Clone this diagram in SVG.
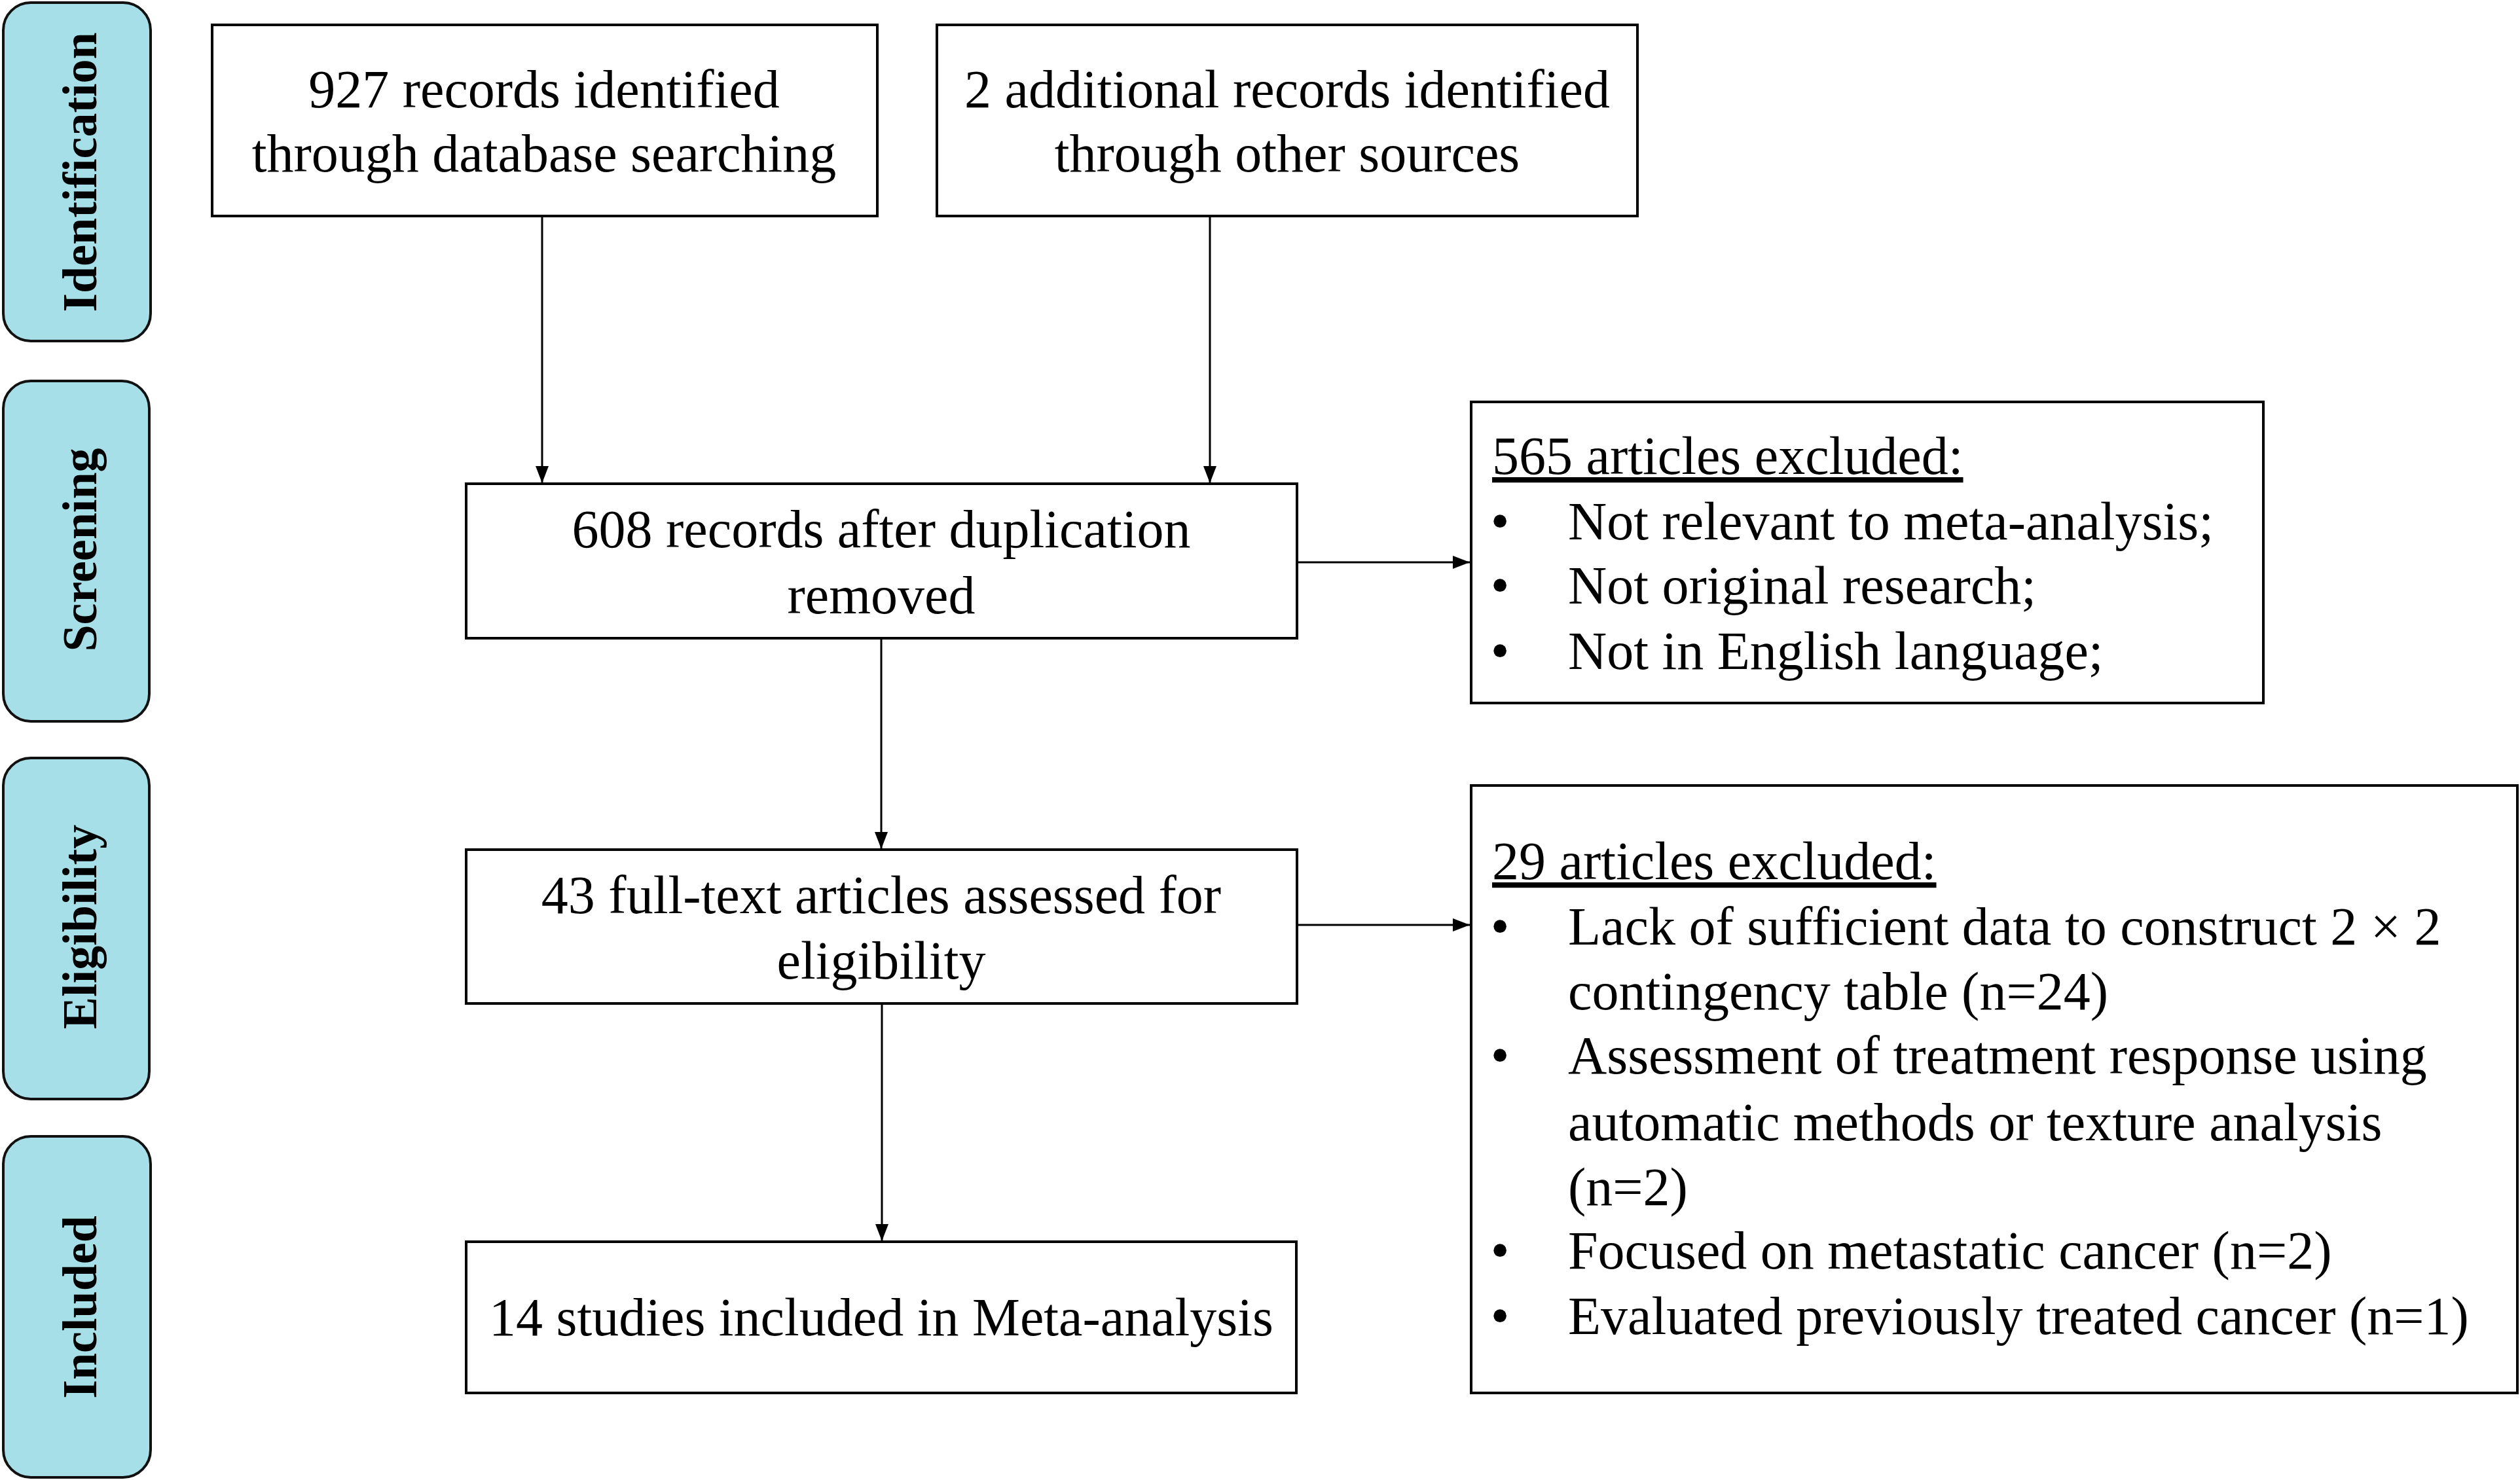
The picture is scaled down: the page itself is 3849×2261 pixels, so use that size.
<svg xmlns="http://www.w3.org/2000/svg" width="3849" height="2261" viewBox="0 0 3849 2261">
<defs>
<marker id="ah" markerWidth="26" markerHeight="20" refX="26" refY="10" orient="auto" markerUnits="userSpaceOnUse" viewBox="0 0 26 20">
<path d="M0,0 L26,10 L0,20 Z" fill="#000"/>
</marker>
<style>
.stage{fill:#a6dfe7;stroke:#111;stroke-width:4}
.stxt{font-family:"Liberation Serif",serif;font-weight:bold;font-size:74px;fill:#000;text-anchor:middle}
.box{fill:#fff;stroke:#000;stroke-width:4}
.t{font-family:"Liberation Serif",serif;font-size:82px;fill:#000}
.c{text-anchor:middle}
.b{text-anchor:middle}
.u{text-decoration:underline}
.conn{stroke:#000;stroke-width:3;fill:none}
</style>
</defs>
<rect width="3849" height="2261" fill="#fff"/>

<g id="stage-identification">
<rect class="stage" x="5" y="4" width="225" height="517" rx="42"/>
<text class="stxt" transform="translate(147,263) rotate(-90)">Identification</text>
</g>
<g id="stage-screening">
<rect class="stage" x="5" y="582" width="223" height="520" rx="42"/>
<text class="stxt" transform="translate(147,840) rotate(-90)">Screening</text>
</g>
<g id="stage-eligibility">
<rect class="stage" x="5" y="1158" width="223" height="521" rx="42"/>
<text class="stxt" transform="translate(147,1416) rotate(-90)">Eligibility</text>
</g>
<g id="stage-included">
<rect class="stage" x="5" y="1736" width="225" height="521" rx="42"/>
<text class="stxt" transform="translate(147,1997) rotate(-90)">Included</text>
</g>

<g id="connectors">
<line class="conn" x1="828" y1="330" x2="828" y2="738" marker-end="url(#ah)"/>
<line class="conn" x1="1848" y1="330" x2="1848" y2="738" marker-end="url(#ah)"/>
<line class="conn" x1="1346" y1="975" x2="1346" y2="1297" marker-end="url(#ah)"/>
<line class="conn" x1="1347" y1="1533" x2="1347" y2="1896" marker-end="url(#ah)"/>
<line class="conn" x1="1981" y1="859" x2="2245" y2="859" marker-end="url(#ah)"/>
<line class="conn" x1="1981" y1="1413" x2="2245" y2="1413" marker-end="url(#ah)"/>
</g>

<g id="n-database">
<rect class="box" x="324" y="38" width="1016" height="292"/>
<text class="t c" x="831" y="164">927 records identified</text>
<text class="t c" x="831" y="262">through database searching</text>
</g>
<g id="n-other">
<rect class="box" x="1431" y="38" width="1070" height="292"/>
<text class="t c" x="1966" y="164">2 additional records identified</text>
<text class="t c" x="1966" y="262">through other sources</text>
</g>
<g id="n-dedup">
<rect class="box" x="712" y="739" width="1269" height="236"/>
<text class="t c" x="1346" y="836">608 records after duplication</text>
<text class="t c" x="1346" y="937">removed</text>
</g>
<g id="n-fulltext">
<rect class="box" x="712" y="1298" width="1269" height="235"/>
<text class="t c" x="1346" y="1395">43 full-text articles assessed for</text>
<text class="t c" x="1346" y="1495">eligibility</text>
</g>
<g id="n-included">
<rect class="box" x="712" y="1897" width="1268" height="231"/>
<text class="t c" x="1346" y="2040">14 studies included in Meta-analysis</text>
</g>
<g id="n-excluded1">
<rect class="box" x="2247" y="614" width="1210" height="460"/>
<text class="t u" x="2279" y="724">565 articles excluded:</text>
<text class="t b" x="2291" y="824">•</text>
<text class="t" x="2395" y="824">Not relevant to meta-analysis;</text>
<text class="t b" x="2291" y="922">•</text>
<text class="t" x="2395" y="922">Not original research;</text>
<text class="t b" x="2291" y="1022">•</text>
<text class="t" x="2395" y="1022">Not in English language;</text>
</g>
<g id="n-excluded2">
<rect class="box" x="2247" y="1200" width="1598" height="928"/>
<text class="t u" x="2279" y="1343">29 articles excluded:</text>
<text class="t b" x="2291" y="1443">•</text>
<text class="t" x="2395" y="1443">Lack of sufficient data to construct 2 × 2</text>
<text class="t" x="2395" y="1542">contingency table (n=24)</text>
<text class="t b" x="2291" y="1640">•</text>
<text class="t" x="2395" y="1640">Assessment of treatment response using</text>
<text class="t" x="2395" y="1742">automatic methods or texture analysis</text>
<text class="t" x="2395" y="1841">(n=2)</text>
<text class="t b" x="2291" y="1938">•</text>
<text class="t" x="2395" y="1938">Focused on metastatic cancer (n=2)</text>
<text class="t b" x="2291" y="2038">•</text>
<text class="t" x="2395" y="2038">Evaluated previously treated cancer (n=1)</text>
</g>
</svg>
